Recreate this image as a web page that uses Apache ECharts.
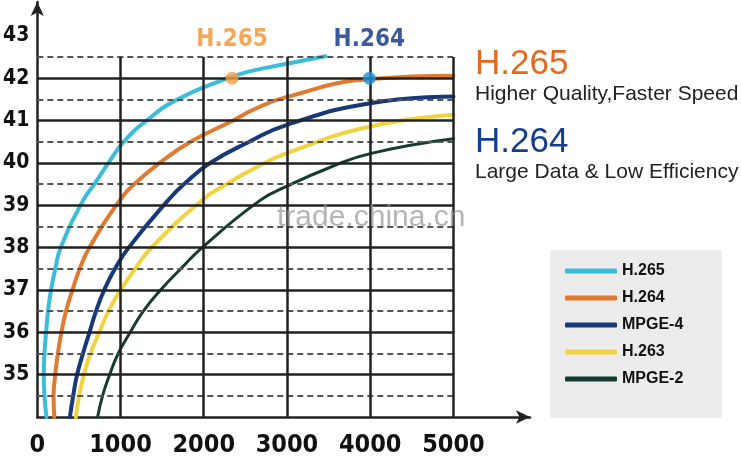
<!DOCTYPE html>
<html>
<head>
<meta charset="utf-8">
<script src="https://cdn.jsdelivr.net/npm/echarts@6/dist/echarts.min.js"></script>
<style>
  html, body { margin: 0; padding: 0; background: #fff; }
  #main { width: 741px; height: 458px; }
</style>
</head>
<body>
<div id="main"></div>
<script>
var narrow = "'DejaVu Sans Condensed', 'Liberation Sans Narrow', sans-serif";
var sans = "'Liberation Sans', Arial, sans-serif";

// curves: [bitrate, quality]
var h265 = [[110, 34], [86, 34.5], [78, 35], [86, 35.5], [106, 36], [129, 36.5], [165, 37], [216, 37.5], [282, 38],
    [549, 39.11], [686, 39.5], [855, 40], [1039, 40.5], [1313, 41], [1686, 41.5], [2290, 42], [2588, 42.18], [3000, 42.34], [3462, 42.52]];
var h264 = [[204, 34], [196, 34.5], [216, 35], [247, 35.5], [290, 36], [345, 36.5], [423, 37], [510, 37.5], [627, 38],
    [992, 39.12], [1165, 39.5], [1470, 40], [1843, 40.5], [2352, 41], [2588, 41.25], [3000, 41.56], [4000, 41.98], [5000, 42.06]];
var mpeg4 = [[392, 34], [431, 34.5], [478, 35], [549, 35.5], [627, 36], [706, 36.5], [804, 37], [933, 37.5], [1098, 38],
    [1568, 39.11], [1764, 39.5], [2078, 40], [2548, 40.5], [3000, 40.9], [4000, 41.41], [5000, 41.57]];
var h263 = [[463, 34], [502, 34.5], [561, 35], [639, 35.5], [745, 36], [855, 36.5], [1000, 37], [1176, 37.5], [1372, 38],
    [1980, 39.12], [2274, 39.5], [2588, 39.85], [3000, 40.23], [4000, 40.86], [5000, 41.13]];
var mpeg2 = [[725, 34], [784, 34.5], [870, 35], [972, 35.5], [1117, 36], [1274, 36.5], [1482, 37], [1725, 37.5], [1980, 38],
    [2672, 39.11], [3000, 39.45], [3500, 39.88], [4000, 40.22], [5000, 40.57]];

var names = ['H.265', 'H.264', 'MPGE-4', 'H.263', 'MPGE-2'];
var colors = ['#3bbcd9', '#e07a30', '#17397a', '#f1d340', '#163b32'];
var widths = [4, 4, 4, 4, 3];

// the two marked points
var dot265 = [2340, 42];
var dot264 = [3989, 42];

// grid levels
var solidY = [35, 36, 37, 38, 39, 40, 41, 42];
var dashedY = [34.5, 35.5, 36.5, 37.5, 38.5, 39.5, 40.5, 41.5, 42.5];
var gridX = [1000, 2000, 3000, 4000, 5000];

var myChart = echarts.init(document.getElementById('main'));

var gridLines = [];
solidY.forEach(function (v) {
    gridLines.push([{ coord: [0, v], lineStyle: { color: '#222', width: 2.5, type: 'solid' } }, { coord: [5000, v] }]);
});
dashedY.forEach(function (v) {
    gridLines.push([{ coord: [0, v], lineStyle: { color: '#555', width: 2, type: [6, 4] } }, { coord: [5000, v] }]);
});
gridX.forEach(function (v) {
    gridLines.push([{ coord: [v, 34], lineStyle: { color: '#222', width: 2.5, type: 'solid' } }, { coord: [v, 42.5] }]);
});

var series = [{
    name: 'grid',
    type: 'line',
    data: [],
    silent: true,
    markLine: {
        silent: true,
        symbol: ['none', 'none'],
        label: { show: false },
        data: gridLines
    }
}];

var curves = [h265, h264, mpeg4, h263, mpeg2];
curves.forEach(function (d, i) {
    series.push({
        name: names[i],
        type: 'line',
        data: d,
        smooth: true,
        showSymbol: false,
        lineStyle: { color: colors[i], width: widths[i], cap: 'round' },
        itemStyle: { color: colors[i] }
    });
});

series.push({
    name: 'dots',
    type: 'scatter',
    symbolSize: 13,
    z: 5,
    data: [
        { value: dot265, itemStyle: { color: '#f5a043' },
          label: { show: true, position: 'top', distance: 20, formatter: 'H.265', color: '#f0922a',
                   fontFamily: narrow, fontWeight: 'bold', fontSize: 24 } },
        { value: dot264, itemStyle: { color: '#1e92da' },
          label: { show: true, position: 'top', distance: 20, formatter: 'H.264', color: '#0b2f80',
                   fontFamily: narrow, fontWeight: 'bold', fontSize: 24 } }
    ]
});

var option = {
    animation: false,
    grid: { left: 30, right: 211, top: 2, bottom: 41 },
    xAxis: {
        type: 'value',
        min: 0,
        max: 5920,
        interval: 1000,
        axisLine: { lineStyle: { color: '#222', width: 2.5 }, symbol: ['none', 'arrow'], symbolSize: [10, 14] },
        axisTick: { show: false },
        splitLine: { show: false },
        axisLabel: {
            margin: 16,
            color: '#111',
            fontFamily: narrow,
            fontWeight: 'bold',
            fontSize: 25,
            showMaxLabel: false,
            formatter: function (v) { return (v % 1000 === 0 && v <= 5000) ? String(v) : ''; }
        }
    },
    yAxis: {
        type: 'value',
        min: 34,
        max: 43.8,
        interval: 0.5,
        axisLine: { lineStyle: { color: '#222', width: 2.5 }, symbol: ['none', 'arrow'], symbolSize: [10, 14] },
        axisTick: { show: false },
        splitLine: { show: false },
        axisLabel: {
            margin: 8,
            color: '#111',
            fontFamily: narrow,
            fontWeight: 'bold',
            fontSize: 21,
            padding: [8, 0, 0, 0],
            showMaxLabel: false,
            formatter: function (v) { return (v % 1 === 0 && v >= 35 && v <= 43) ? String(v) : ''; }
        }
    },
    legend: {
        data: names,
        orient: 'vertical',
        left: 565,
        top: 263,
        padding: 0,
        icon: 'roundRect',
        itemWidth: 52,
        itemHeight: 5,
        itemGap: 11,
        textStyle: { fontFamily: sans, fontSize: 16, fontWeight: 'bold', lineHeight: 16, color: '#111' }
    },
    graphic: [
        { type: 'rect', z: 0, shape: { x: 550, y: 250, width: 172, height: 168 }, style: { fill: '#ececec' } },
        { type: 'text', x: 475, y: 64, style: { text: 'H.265', font: '35px ' + sans, fill: '#e06a22', textVerticalAlign: 'middle' } },
        { type: 'text', x: 475, y: 94, style: { text: 'Higher Quality,Faster Speed', font: '21px ' + sans, fill: '#222', textVerticalAlign: 'middle' } },
        { type: 'text', x: 475, y: 142, style: { text: 'H.264', font: '35px ' + sans, fill: '#153d8c', textVerticalAlign: 'middle' } },
        { type: 'text', x: 475, y: 172, style: { text: 'Large Data & Low Efficiency', font: '21px ' + sans, fill: '#222', textVerticalAlign: 'middle' } },
        { type: 'text', x: 277, y: 218, z: 50, style: { text: 'trade.china.cn', font: '30px ' + sans, fill: 'rgba(150,150,150,0.7)', textVerticalAlign: 'middle' } }
    ],
    series: series
};
myChart.setOption(option);
</script>
</body>
</html>
